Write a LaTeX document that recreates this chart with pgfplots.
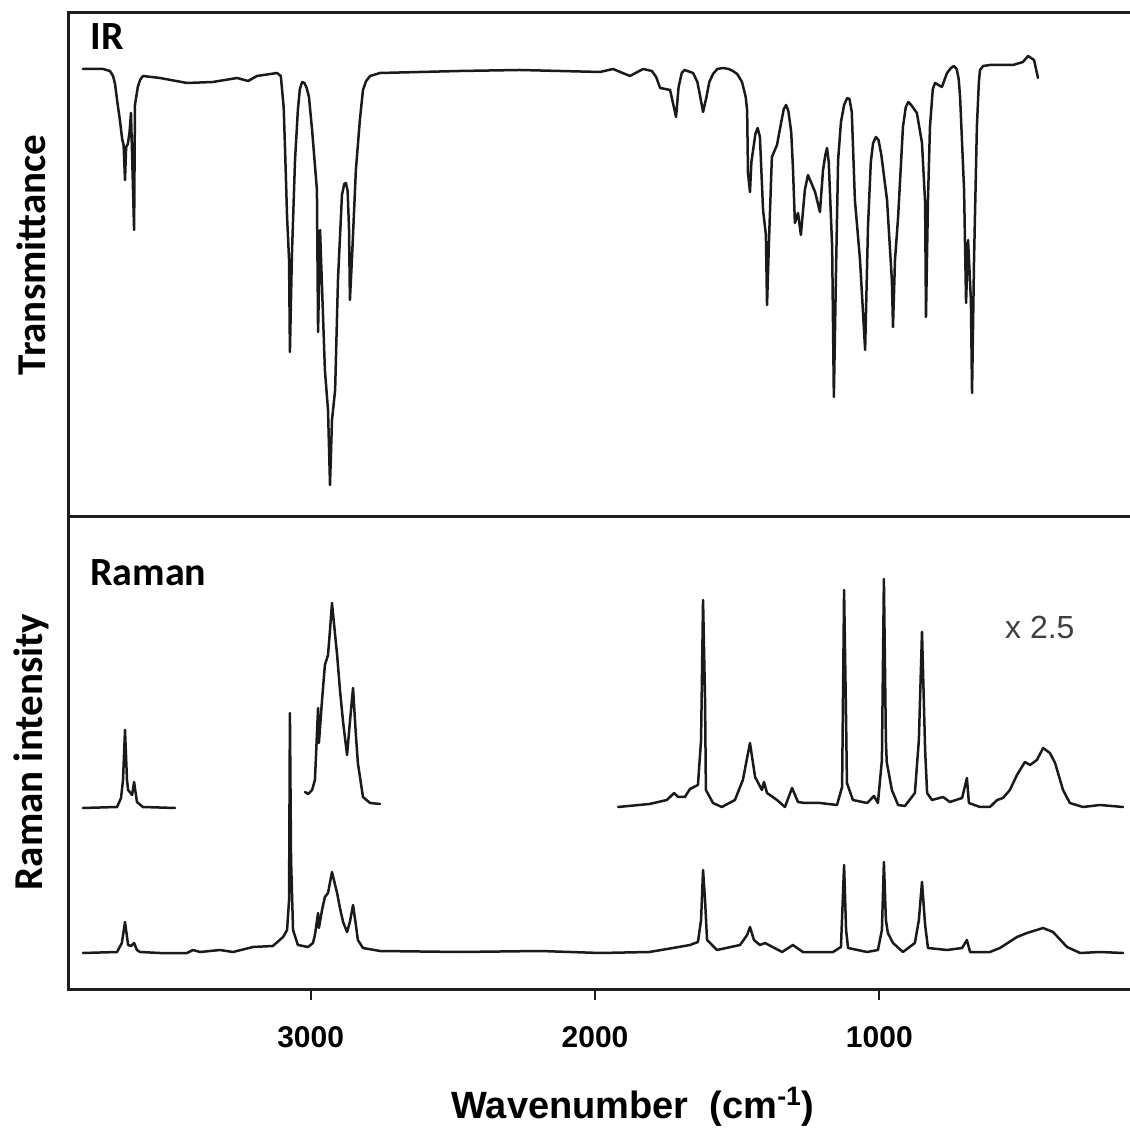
\documentclass[border=0pt]{standalone}
\usepackage{pgfplots}
\pgfplotsset{compat=1.18}
\usepackage{fontspec}
\setmainfont{Liberation Sans}
\newfontfamily\calfont{Carlito}
\definecolor{spec}{HTML}{1A1A1A}
\definecolor{frm}{HTML}{1E1E1E}
\pgfplotsset{
 sp/.style={spec, line width=1.25pt, line join=round, line cap=round, mark=none},
 spax/.style={
  scale only axis, width=530.5pt,
  xmin=118.5, xmax=3850, x dir=reverse,
  axis line style={draw=none},
  ytick=\empty,
  clip=false,
  ylabel style={font=\calfont\bfseries\fontsize{20.5}{22}\selectfont, anchor=center},
 }
}
\begin{document}
\begin{tikzpicture}
\begin{axis}[spax, name=top, at={(0,0)}, anchor=south west,
  height=252pt, ymin=0, ymax=504, xtick=\empty,
  ylabel={Transmittance},
  ylabel style={at={(axis description cs:-0.0358,0.52)}}]
\addplot[sp] coordinates {
(3801,448)(3730,448)(3706,446)(3695,441)(3688,433)(3680,415)(3671,397)(3663,378)(3658,372)(3653,337)(3649,370)(3643,373)(3637,385)(3632,404)(3621,287)(3618,412)
(3608,430)(3600,437)(3590,441)(3530,439)(3435,434)(3344,435)(3259,439)(3220,436)(3189,441)(3118,444)(3105,441)
(3095,410)(3090,367)(3083,300)(3076,257)(3073,165)(3066,262)(3055,357)(3045,407)(3038,428)(3030,435)(3022,434)(3014,429)(3006,420)(2995,387)
(2978,327)(2974,185)(2967,287)(2950,147)(2939,107)(2932,32)(2925,97)(2914,127)(2904,237)(2890,322)(2882,333)(2876,334)(2870,326)
(2865,287)(2862,217)(2855,257)(2841,347)(2827,397)(2816,427)(2805,436)(2791,441)(2756,444)(2616,445)
(2475,446)(2264,447)(2123,446)(1982,445)(1937,448)(1877,441)(1831,448)(1800,446)(1785,440)(1771,429)(1736,427)
(1715,400)(1706,430)(1695,444)(1685,447)(1675,446)(1655,444)(1640,435)(1631,422)(1620,405)(1608,420)(1598,435)(1585,443)(1570,448)(1550,449)(1530,448)(1515,446)(1500,443)
(1483,435)(1470,420)(1465,407)(1462,344)(1455,325)(1450,355)(1444,367)(1436,383)(1428,389)(1420,380)(1409,307)(1399,282)(1395,212)(1388,277)
(1378,360)(1360,372)(1345,395)(1336,408)(1328,412)(1320,406)(1310,385)(1304,350)(1297,294)(1286,304)(1276,282)(1262,327)(1251,342)(1226,325)
(1209,305)(1198,347)(1190,362)(1184,369)(1178,355)(1166,270)(1160,120)(1152,252)(1145,357)(1135,395)(1124,412)(1113,419)(1105,418)(1097,405)(1086,317)
(1068,257)(1050,167)(1040,290)(1030,355)(1022,374)(1012,380)(1003,377)(993,362)(973,317)(956,237)(952,190)(945,257)(934,300)
(917,390)(907,410)(898,415)(888,412)(868,404)(850,374)(839,314)(836,200)(829,317)(822,390)(812,428)(804,434)(780,430)
(762,444)(748,449)(738,451)(728,448)(721,438)(716,420)(702,327)(695,214)(688,277)(678,217)(674,124)(667,257)(657,390)
(650,435)(646,447)(635,451)(611,452)(530,452)(495,455)(477,461)(456,457)(442,439)
};
\node[anchor=base west, inner sep=0, font=\calfont\bfseries\fontsize{20}{22}\selectfont] at (axis description cs:0.0198,0.9266) {IR};
\end{axis}
\begin{axis}[spax, name=bot, at={(top.south west)}, anchor=north west,
  height=236.5pt, ymin=0, ymax=473,
  xtick={1000,2000,3000}, xticklabels={1000,2000,3000}, xtick pos=left,
  tick align=outside, major tick length=5pt,
  xtick style={frm, line width=1pt},
  xticklabel style={font=\bfseries\fontsize{15}{16}\selectfont, anchor=base, yshift=-23.5pt},
  xlabel={Wavenumber\ \ (cm\textsuperscript{-1})},
  xlabel style={font=\bfseries\fontsize{19}{21}\selectfont, at={(axis description cs:0.5316,0)}, anchor=base, yshift=-64pt},
  ylabel={Raman intensity},
  ylabel style={at={(axis description cs:-0.0358,0.503)}}]
\addplot[sp] coordinates {
(3801,37)(3681,38)(3664,47)(3653,68)(3642,45)(3632,44)(3621,47)(3611,40)(3600,38)(3530,37)
(3435,37)(3414,40)(3389,38)(3319,40)(3273,38)(3203,43)(3133,44)(3097,53)(3083,60)(3076,90)
(3073,277)(3069,130)(3062,60)(3045,45)(3009,43)(2992,47)(2985,55)(2974,77)(2971,62)(2960,80)
(2950,93)(2939,97)(2925,118)(2914,105)(2907,97)(2897,82)(2886,68)(2872,58)(2862,68)(2851,85)
(2841,65)(2834,50)(2816,42)(2756,39)(2475,38)(2193,39)(1982,37)(1809,38)(1726,42)(1666,45)
(1638,48)(1627,70)(1620,120)(1613,90)(1606,50)(1571,40)(1490,45)(1465,55)(1455,63)(1441,50)
(1420,45)(1402,47)(1342,38)(1304,45)(1269,38)(1163,38)(1135,43)(1124,125)(1117,60)(1110,42)
(1043,38)(1005,40)(991,60)(984,128)(977,70)(970,57)(952,47)(917,38)(875,47)(861,70)
(850,108)(839,65)(829,42)(762,40)(709,42)(692,50)(681,38)(611,38)(576,42)(516,53)
(481,57)(424,62)(389,58)(340,43)(294,37)(224,38)(143,37)
};
\addplot[sp] coordinates {
(3801,182)(3681,183)(3667,192)(3660,210)(3653,260)(3646,210)(3642,200)(3628,195)(3621,208)(3611,188)
(3590,183)(3477,182)
};
\addplot[sp] coordinates {
(3020,198)(3009,196)(2995,200)(2985,210)(2974,282)(2971,247)(2960,290)(2950,325)(2939,335)(2932,360)
(2925,387)(2914,355)(2907,335)(2897,300)(2886,268)(2872,235)(2862,268)(2851,302)(2841,255)(2834,227)
(2816,193)(2791,187)(2756,186)
};
\addplot[sp] coordinates {
(1919,183)(1809,186)(1747,190)(1722,197)(1708,193)(1684,193)(1666,201)(1638,205)(1627,250)(1620,390)
(1613,290)(1610,200)(1585,187)(1554,183)(1508,190)(1480,210)(1455,247)(1437,213)(1413,200)(1406,208)
(1395,197)(1360,190)(1332,183)(1307,202)(1286,188)(1262,187)(1209,187)(1149,185)(1131,203)(1124,400)
(1117,270)(1114,207)(1093,190)(1043,187)(1019,194)(1005,187)(991,230)(984,411)(977,250)(974,228)
(956,200)(934,185)(910,184)(875,197)(861,250)(850,358)(839,240)(832,197)(815,190)(776,193)
(752,188)(709,192)(692,212)(685,187)(646,183)(611,183)(586,190)(565,192)(541,200)(516,215)
(488,228)(470,225)(446,230)(424,242)(400,237)(382,227)(354,200)(330,187)(284,183)(224,185)
(143,183)
};
\node[anchor=base west, inner sep=0, font=\calfont\bfseries\fontsize{20}{22}\selectfont] at (axis description cs:0.0198,0.856) {Raman};
\node[anchor=base west, inner sep=0, text=black!75, font=\fontsize{16}{18}\selectfont] at (axis description cs:0.882,0.744) {x 2.5};
\end{axis}
\draw[frm, line width=1.5pt, line cap=rect] (top.north east) -- (top.north west) -- (bot.south west) -- (bot.south east);
\draw[frm, line width=1.5pt] (top.south west) -- (top.south east);
\pgfresetboundingbox
\path[use as bounding box] ([xshift=-34.5pt,yshift=-305.5pt]top.south west) rectangle ++(565pt,564pt);
\end{tikzpicture}
\end{document}
